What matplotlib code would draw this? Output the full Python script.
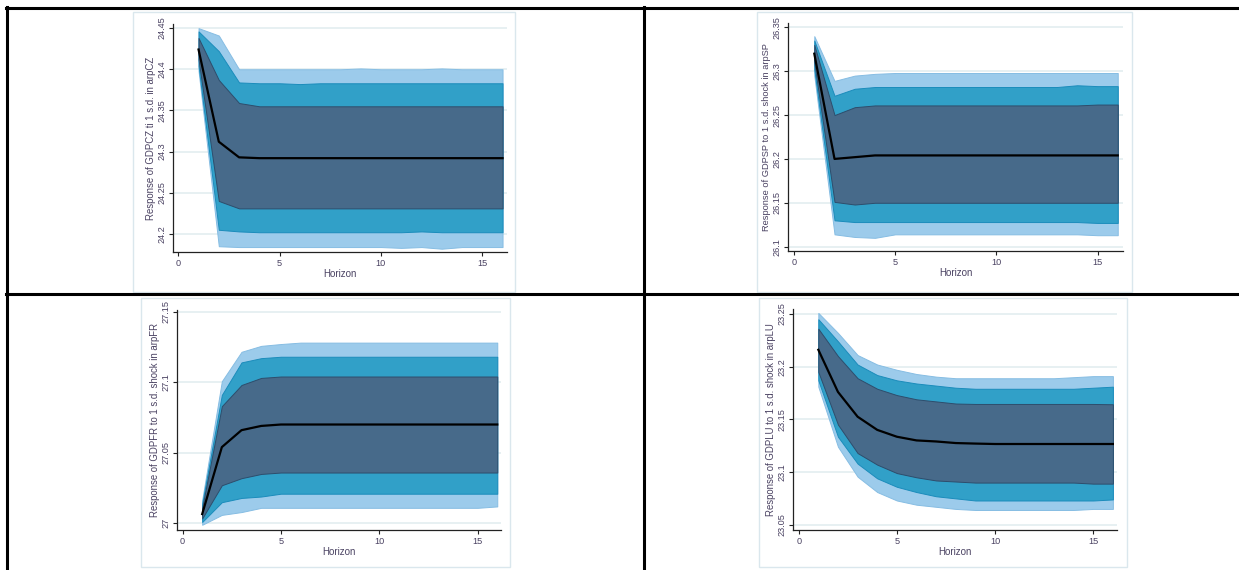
import matplotlib.pyplot as plt
from matplotlib.lines import Line2D
from matplotlib.patches import Rectangle

plt.rcParams['font.family'] = ['Liberation Sans', 'DejaVu Sans']

W, H = 1239, 570
horizon = list(range(1, 17))
xticks = [0, 5, 10, 15]

# ---- GDPCZ / arpCZ
cz_irf = [24.424, 24.312, 24.293, 24.292, 24.292, 24.292, 24.292, 24.292,
          24.292, 24.292, 24.292, 24.292, 24.292, 24.292, 24.292, 24.292]
cz_in_hi = [24.438, 24.387, 24.359, 24.355, 24.355, 24.355, 24.355, 24.355,
            24.355, 24.355, 24.355, 24.355, 24.355, 24.355, 24.355, 24.355]
cz_in_lo = [24.412, 24.240, 24.231, 24.231, 24.231, 24.231, 24.231, 24.231,
            24.231, 24.231, 24.231, 24.231, 24.231, 24.231, 24.231, 24.231]
cz_mid_hi = [24.446, 24.422, 24.384, 24.383, 24.383, 24.382, 24.383, 24.383,
             24.383, 24.383, 24.383, 24.383, 24.383, 24.383, 24.383, 24.383]
cz_mid_lo = [24.404, 24.205, 24.203, 24.202, 24.202, 24.202, 24.202, 24.202,
             24.202, 24.202, 24.202, 24.203, 24.202, 24.202, 24.202, 24.202]
cz_out_hi = [24.450, 24.441, 24.400, 24.400, 24.400, 24.400, 24.400, 24.400,
             24.401, 24.400, 24.400, 24.400, 24.401, 24.400, 24.400, 24.400]
cz_out_lo = [24.398, 24.185, 24.184, 24.184, 24.184, 24.184, 24.184, 24.184,
             24.184, 24.184, 24.183, 24.184, 24.182, 24.184, 24.184, 24.184]
cz_yticks = [24.2, 24.25, 24.3, 24.35, 24.4, 24.45]
cz_label = 'Response of GDPCZ ti 1 s.d. in arpCZ'

# ---- GDPSP / arpSP
sp_irf = [26.320, 26.200, 26.202, 26.204, 26.204, 26.204, 26.204, 26.204,
          26.204, 26.204, 26.204, 26.204, 26.204, 26.204, 26.204, 26.204]
sp_in_hi = [26.330, 26.250, 26.259, 26.261, 26.261, 26.261, 26.261, 26.261,
            26.261, 26.261, 26.261, 26.261, 26.261, 26.261, 26.262, 26.262]
sp_in_lo = [26.310, 26.151, 26.148, 26.150, 26.150, 26.150, 26.150, 26.150,
            26.150, 26.150, 26.150, 26.150, 26.150, 26.150, 26.150, 26.150]
sp_mid_hi = [26.335, 26.272, 26.280, 26.282, 26.282, 26.282, 26.282, 26.282,
             26.282, 26.282, 26.282, 26.282, 26.282, 26.284, 26.283, 26.283]
sp_mid_lo = [26.302, 26.130, 26.128, 26.128, 26.128, 26.128, 26.128, 26.128,
             26.128, 26.128, 26.128, 26.128, 26.128, 26.128, 26.127, 26.127]
sp_out_hi = [26.340, 26.289, 26.295, 26.297, 26.298, 26.298, 26.298, 26.298,
             26.298, 26.298, 26.298, 26.298, 26.298, 26.298, 26.298, 26.298]
sp_out_lo = [26.295, 26.114, 26.111, 26.110, 26.114, 26.114, 26.114, 26.114,
             26.114, 26.114, 26.114, 26.114, 26.114, 26.114, 26.113, 26.113]
sp_yticks = [26.1, 26.15, 26.2, 26.25, 26.3, 26.35]
sp_label = 'Response of GDPSP to 1 s.d. shock in arpSP'

# ---- GDPFR / arpFR
fr_irf = [27.0066, 27.054, 27.066, 27.069, 27.070, 27.070, 27.070, 27.070,
          27.070, 27.070, 27.070, 27.070, 27.070, 27.070, 27.070, 27.070]
fr_in_hi = [27.011, 27.083, 27.098, 27.103, 27.104, 27.104, 27.104, 27.104,
            27.104, 27.104, 27.104, 27.104, 27.104, 27.104, 27.104, 27.104]
fr_in_lo = [27.0035, 27.027, 27.032, 27.035, 27.036, 27.036, 27.036, 27.036,
            27.036, 27.036, 27.036, 27.036, 27.036, 27.036, 27.036, 27.036]
fr_mid_hi = [27.014, 27.091, 27.114, 27.117, 27.118, 27.118, 27.118, 27.118,
             27.118, 27.118, 27.118, 27.118, 27.118, 27.118, 27.118, 27.118]
fr_mid_lo = [27.001, 27.015, 27.018, 27.019, 27.021, 27.021, 27.021, 27.021,
             27.021, 27.021, 27.021, 27.021, 27.021, 27.021, 27.021, 27.021]
fr_out_hi = [27.0165, 27.1007, 27.1215, 27.1257, 27.127, 27.128, 27.128, 27.128,
             27.128, 27.128, 27.128, 27.128, 27.128, 27.128, 27.128, 27.128]
fr_out_lo = [26.999, 27.006, 27.008, 27.011, 27.011, 27.011, 27.011, 27.011,
             27.011, 27.011, 27.011, 27.011, 27.011, 27.011, 27.011, 27.012]
fr_yticks = [27.0, 27.05, 27.1, 27.15]
fr_label = 'Response of GDPFR to 1 s.d. shock in arpFR'

# ---- GDPLU / arpLU
lu_irf = [23.216, 23.176, 23.1525, 23.140, 23.1335, 23.130, 23.129, 23.1275,
          23.127, 23.1266, 23.1266, 23.1266, 23.1266, 23.1266, 23.1266, 23.1266]
lu_in_hi = [23.236, 23.210, 23.189, 23.179, 23.173, 23.169, 23.167, 23.165,
            23.1646, 23.1646, 23.1646, 23.1646, 23.1646, 23.1646, 23.1646, 23.1643]
lu_in_lo = [23.195, 23.145, 23.118, 23.107, 23.099, 23.095, 23.092, 23.091,
            23.090, 23.090, 23.090, 23.090, 23.090, 23.090, 23.089, 23.089]
lu_mid_hi = [23.245, 23.224, 23.202, 23.192, 23.187, 23.184, 23.182, 23.180,
             23.179, 23.179, 23.179, 23.179, 23.179, 23.179, 23.180, 23.181]
lu_mid_lo = [23.187, 23.1335, 23.108, 23.094, 23.086, 23.081, 23.077, 23.075,
             23.073, 23.073, 23.073, 23.073, 23.073, 23.073, 23.073, 23.074]
lu_out_hi = [23.251, 23.232, 23.211, 23.202, 23.197, 23.193, 23.1905, 23.189,
             23.189, 23.189, 23.189, 23.189, 23.189, 23.190, 23.191, 23.191]
lu_out_lo = [23.181, 23.124, 23.0956, 23.081, 23.073, 23.069, 23.067, 23.065,
             23.064, 23.064, 23.064, 23.064, 23.064, 23.064, 23.065, 23.065]
lu_yticks = [23.05, 23.1, 23.15, 23.2, 23.25]
lu_label = 'Response of GDPLU to 1 s.d. shock in arpLU'

LIGHT, LIGHT_EDGE = '#9ccbeb', '#86bde3'
MID, MID_EDGE = '#31a0c8', '#1b8cbb'
DARK, DARK_EDGE = '#476a8a', '#2e4d6c'
TXT = '#4a4262'


def px_axes(fig, left, top, right, bottom):
    return fig.add_axes([left / W, 1 - bottom / H, (right - left) / W, (bottom - top) / H])


def frame(fig, left, top, right, bottom):
    fig.add_artist(Rectangle((left / W, 1 - bottom / H), (right - left) / W, (bottom - top) / H,
                             transform=fig.transFigure, fill=False, ec='#dae7ed', lw=1.0))


def draw_irf(ax, irf, bands, yticks, ylabel, xlim, ylim, lsize=6.9):
    for lo, hi, fc, ec in bands:
        ax.fill_between(horizon, lo, hi, facecolor=fc, edgecolor=ec, lw=0.7, zorder=2)
    ax.plot(horizon, irf, color='black', lw=1.6, zorder=3)
    ax.set_xlim(xlim)
    ax.set_ylim(ylim)
    ax.set_xticks(xticks)
    ax.set_yticks(yticks)
    ax.set_yticklabels(['%g' % t for t in yticks], rotation=90, va='center')
    ax.yaxis.grid(True, color='#e3edf0', lw=1.2)
    ax.set_axisbelow(True)
    for s in ['top', 'right']:
        ax.spines[s].set_visible(False)
    for s in ['left', 'bottom']:
        ax.spines[s].set_color('#222222')
        ax.spines[s].set_linewidth(0.9)
    ax.tick_params(length=3, width=0.8, color='#222222', labelsize=6.6,
                   labelcolor=TXT, pad=2)
    ax.set_xlabel('Horizon', fontsize=7, color=TXT, labelpad=1)
    ax.set_ylabel(ylabel, fontsize=lsize, color=TXT, labelpad=1)


fig = plt.figure(figsize=(W / 100, H / 100), dpi=100)

# chart frames
frame(fig, 133, 12, 515, 292)
frame(fig, 757, 12, 1132, 292)
frame(fig, 141, 298, 510, 567)
frame(fig, 759, 298, 1127, 567)

ax1 = px_axes(fig, 173, 24, 507, 252)
draw_irf(ax1, cz_irf,
         [(cz_out_lo, cz_out_hi, LIGHT, LIGHT_EDGE),
          (cz_mid_lo, cz_mid_hi, MID, MID_EDGE),
          (cz_in_lo, cz_in_hi, DARK, DARK_EDGE)],
         cz_yticks, cz_label, (-0.26, 16.22), (24.178, 24.455))

ax2 = px_axes(fig, 788, 23, 1123, 251)
draw_irf(ax2, sp_irf,
         [(sp_out_lo, sp_out_hi, LIGHT, LIGHT_EDGE),
          (sp_mid_lo, sp_mid_hi, MID, MID_EDGE),
          (sp_in_lo, sp_in_hi, DARK, DARK_EDGE)],
         sp_yticks, sp_label, (-0.30, 16.26), (26.095, 26.355), lsize=6.7)

ax3 = px_axes(fig, 177, 310, 501, 530)
draw_irf(ax3, fr_irf,
         [(fr_out_lo, fr_out_hi, LIGHT, LIGHT_EDGE),
          (fr_mid_lo, fr_mid_hi, MID, MID_EDGE),
          (fr_in_lo, fr_in_hi, DARK, DARK_EDGE)],
         fr_yticks, fr_label, (-0.28, 16.19), (26.9953, 27.1511))

ax4 = px_axes(fig, 793, 309, 1117, 530)
draw_irf(ax4, lu_irf,
         [(lu_out_lo, lu_out_hi, LIGHT, LIGHT_EDGE),
          (lu_mid_lo, lu_mid_hi, MID, MID_EDGE),
          (lu_in_lo, lu_in_hi, DARK, DARK_EDGE)],
         lu_yticks, lu_label, (-0.29, 16.21), (23.045, 23.2547))

# table borders
def hline(y, x0, x1):
    fig.add_artist(Line2D([x0 / W, x1 / W], [1 - y / H, 1 - y / H], transform=fig.transFigure,
                          color='black', lw=2.2))


def vline(x, y0, y1):
    fig.add_artist(Line2D([x / W, x / W], [1 - y0 / H, 1 - y1 / H], transform=fig.transFigure,
                          color='black', lw=2.2))


hline(7.7, 6, W)
hline(293.5, 6, W)
vline(7, 7, H)
vline(643.5, 7, H)

fig.savefig('out.png', dpi=100)
